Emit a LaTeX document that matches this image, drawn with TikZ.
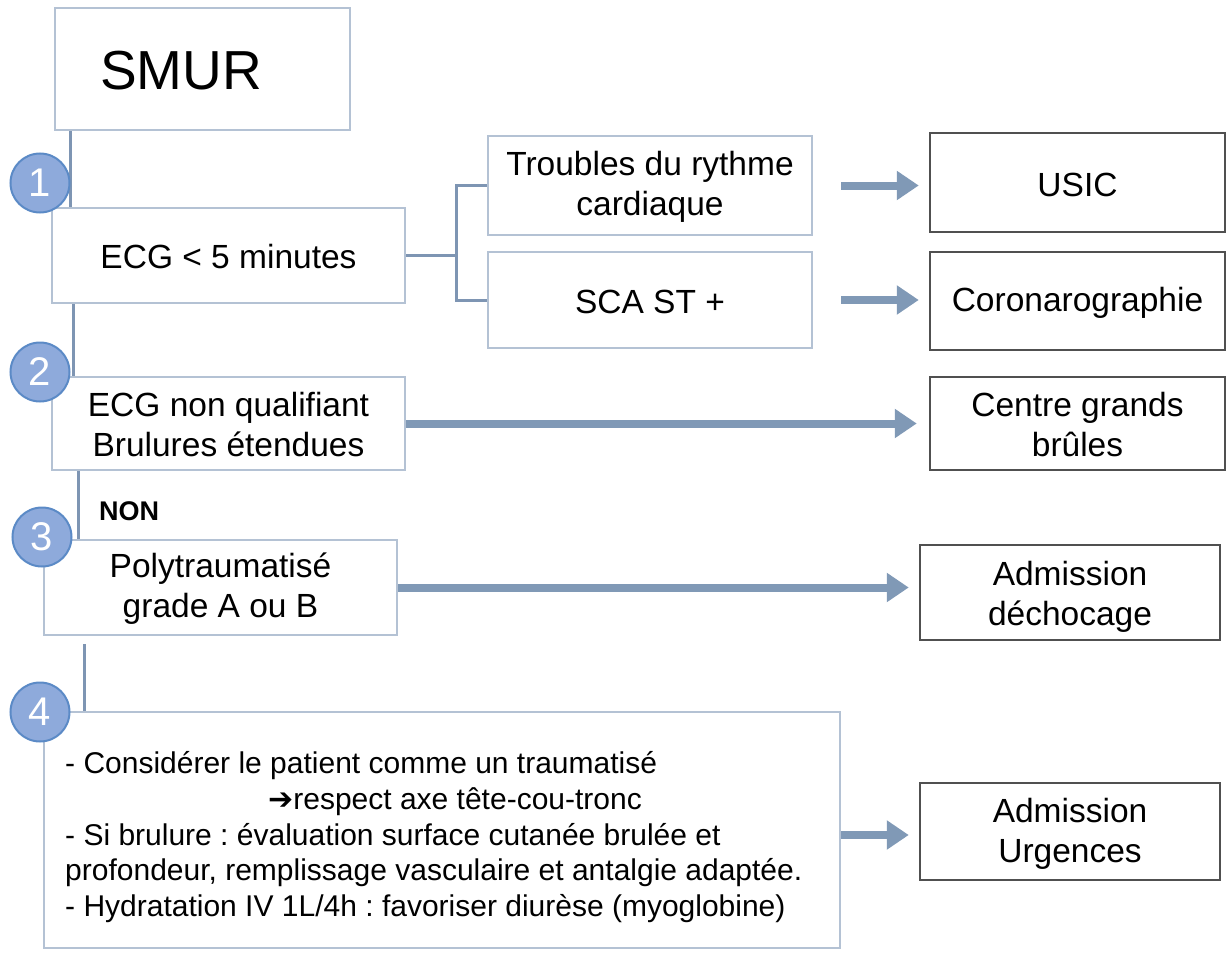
\documentclass[tikz,border=0pt]{standalone}
\usepackage{fontspec}
\setmainfont{Liberation Sans}
\newfontfamily\symfont{DejaVu Sans}
\usetikzlibrary{arrows.meta,calc}
\definecolor{lbox}{HTML}{B4C2D4}
\definecolor{conn}{HTML}{7E95B3}
\definecolor{fatc}{HTML}{8099B6}
\definecolor{cfill}{HTML}{8EAADB}
\definecolor{cdraw}{HTML}{5B8AC6}
\definecolor{dbox}{HTML}{505050}
\frenchspacing
\begin{document}
\begin{tikzpicture}[x=1pt,y=-1pt,
  lightbox/.style={draw=lbox,line width=2.5pt,fill=white,inner sep=0pt},
  darkbox/.style={draw=dbox,line width=2.5pt,fill=white,inner sep=0pt},
  txt/.style={align=center,font=\fontsize{33.5}{40}\selectfont,inner sep=0pt},
  smalltxt/.style={anchor=base west,font=\fontsize{30}{36}\selectfont,inner sep=0pt},
  conline/.style={draw=conn,line width=3pt},
  fatarrow/.style={draw=fatc,line width=8pt,-{Triangle[length=22pt,width=28pt]}},
  stepnum/.style={circle,draw=cdraw,line width=2pt,fill=cfill,minimum size=59pt,inner sep=0pt,text=white,font=\fontsize{40}{40}\selectfont}
]
\useasboundingbox (0,0) rectangle (1230,952);
% boxes
\node[lightbox,minimum width=295pt,minimum height=122pt] (smur) at (202.5,69) {};
\node[anchor=base west,inner sep=0pt,font=\fontsize{55}{55}\selectfont] (smurt) at (100,90) {SMUR};
\node[lightbox,minimum width=353pt,minimum height=95pt] (b1) at (228.5,255.5) {};
\node[lightbox,minimum width=324pt,minimum height=99pt] (tr) at (650,185.5) {};
\node[lightbox,minimum width=324pt,minimum height=96pt] (sca) at (650,300) {};
\node[darkbox,minimum width=295pt,minimum height=99pt] (usic) at (1077.5,182.5) {};
\node[darkbox,minimum width=295pt,minimum height=98pt] (coro) at (1077.5,301) {};
\node[lightbox,minimum width=353pt,minimum height=93pt] (b2) at (228.5,423.5) {};
\node[darkbox,minimum width=295pt,minimum height=93pt] (cgb) at (1077.5,423.5) {};
\node[lightbox,minimum width=353pt,minimum height=95pt] (b3) at (220.5,587.5) {};
\node[darkbox,minimum width=300pt,minimum height=95pt] (dech) at (1070,592.5) {};
\node[lightbox,minimum width=796pt,minimum height=236pt] (b4) at (442,830) {};
\node[darkbox,minimum width=300pt,minimum height=97pt] (urg) at (1070,831.5) {};
% texts
\node[txt] (b1t) at (228.5,257) {ECG < 5 minutes};
\node[txt] (trt) at (650,187) {Troubles du rythme\\cardiaque};
\node[txt] (scat) at (650,302) {SCA ST +};
\node[txt] (usict) at (1077.5,185) {USIC};
\node[txt] (corot) at (1077.5,303) {Coronarographie};
\node[txt] (b2t) at (228.5,425) {ECG non qualifiant\\Brulures étendues};
\node[txt] (cgbt) at (1077.5,425) {Centre grands\\brûles};
\node[txt] (b3t) at (220.5,589) {Polytraumatisé\\grade A ou B};
\node[txt] (decht) at (1070,597) {Admission\\déchocage};
\node[txt] (urgt) at (1070,834) {Admission\\Urgences};
\node[anchor=base west,inner sep=0pt,font=\bfseries\fontsize{27}{27}\selectfont] (non) at (99,520) {NON};
\node[smalltxt] (l1) at (65,773) {- Considérer le patient comme un traumatisé};
\node[smalltxt] (l2) at (268,809) {{\symfont\bfseries\fontsize{30}{30}\selectfont ➔}respect axe tête-cou-tronc};
\node[smalltxt] (l3) at (65,845) {- Si brulure : évaluation surface cutanée brulée et};
\node[smalltxt] (l4) at (65,880) {profondeur, remplissage vasculaire et antalgie adaptée.};
\node[smalltxt] (l5) at (65,916) {- Hydratation IV 1L/4h : favoriser diurèse (myoglobine)};
% vertical connectors
\draw[conline] ([xshift=17pt]smur.south west) -- ([xshift=17pt]smur.south west |- b1.north);
\draw[conline] ([xshift=23pt]b1.south west) -- ([xshift=23pt]b1.south west |- b2.north);
\draw[conline] ([xshift=28pt]b2.south west) -- ([xshift=28pt]b2.south west |- b3.north);
\draw[conline] ([xshift=42pt,yshift=-8pt]b3.south west) -- ([xshift=42pt]b3.south west |- b4.north);
% branch
\draw[conline] (b1.east) -- ++(50,0) coordinate (br);
\draw[conline] (tr.west) -| (br) |- (sca.west);
% fat arrows
\draw[fatarrow] ([xshift=28pt]tr.east) -- ([xshift=-10pt]usic.west |- tr.east);
\draw[fatarrow] ([xshift=28pt]sca.east) -- ([xshift=-10pt]coro.west |- sca.east);
\draw[fatarrow] (b2.east) -- ([xshift=-12pt]cgb.west |- b2.east);
\draw[fatarrow] (b3.east) -- ([xshift=-10pt]dech.west |- b3.east);
\draw[fatarrow] ([yshift=-5pt]b4.east) -- ([xshift=-10pt,yshift=-5pt]urg.west |- b4.east);
% step numbers
\node[stepnum] (n1) at (40,183) {1};
\node[stepnum] (n2) at (40,372) {2};
\node[stepnum] (n3) at (42,537) {3};
\node[stepnum] (n4) at (40,712) {4};
\end{tikzpicture}
\end{document}
